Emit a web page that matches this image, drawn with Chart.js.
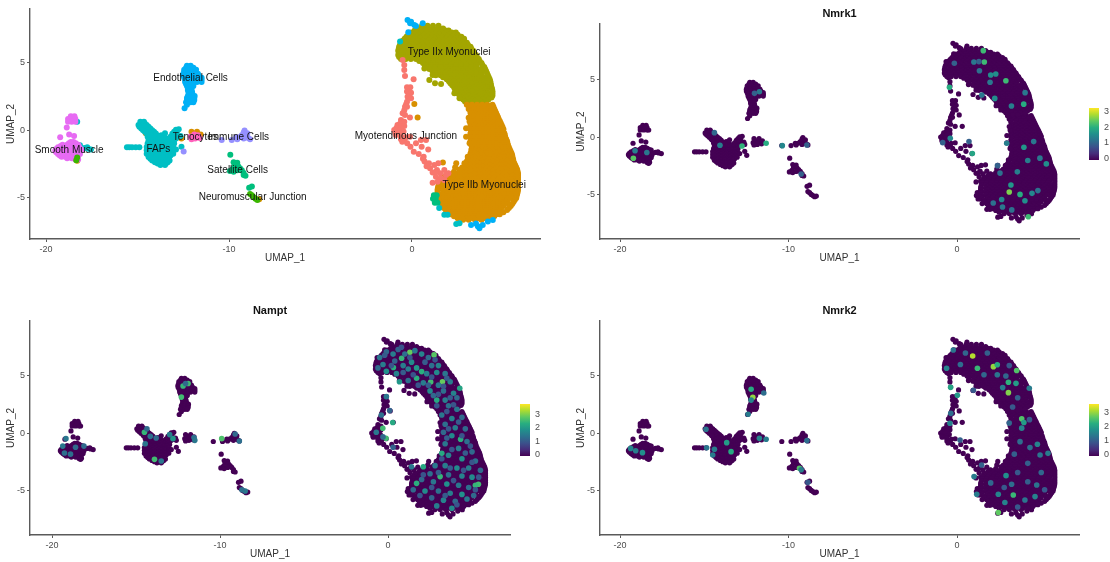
<!DOCTYPE html>
<html>
<head>
<meta charset="utf-8">
<script src="https://cdn.jsdelivr.net/npm/chart.js@4/dist/chart.umd.min.js"></script>
<style>
  html, body { margin: 0; padding: 0; background: #fff; width: 1110px; height: 562px; overflow: hidden; }
  canvas { position: absolute; filter: blur(0.4px); }
</style>
</head>
<body>
<canvas id="clusters" style="left:0;top:0" width="560" height="266"></canvas>
<canvas id="nmrk1" style="left:570px;top:0" width="540" height="266"></canvas>
<canvas id="nampt" style="left:0;top:300px" width="550" height="262"></canvas>
<canvas id="nmrk2" style="left:570px;top:300px" width="540" height="262"></canvas>
<script>
// cells per cluster: each row is [y, x, x, x ...]
const typeIIx = [
  [7.75,.55,.85,1.15,1.45],
  [7.55,.3,.58,.86,1.14,1.42,1.7],
  [7.4,.15,.43,.71,.99,1.27,1.55,1.83,2.0],
  [7.25,-.05,.22,.5,.78,1.06,1.34,1.62,1.9,2.18,2.4],
  [7.1,-.2,.08,.36,.64,.92,1.2,1.48,1.76,2.04,2.32,2.5],
  [6.95,-.3,-.02,.26,.54,.82,1.1,1.38,1.66,1.94,2.22,2.5,2.7],
  [6.8,-.4,-.12,.16,.44,.72,1,1.28,1.56,1.84,2.12,2.4,2.68,2.85],
  [6.65,-.5,-.22,.06,.34,.62,.9,1.18,1.46,1.74,2.02,2.3,2.58,2.86],
  [6.5,-.6,-.32,-.04,.24,.52,.8,1.08,1.36,1.64,1.92,2.2,2.48,2.76,3.0],
  [6.35,-.65,-.3,-.02,.26,.54,.82,1.1,1.38,1.66,1.94,2.22,2.5,2.78,3.06],
  [6.2,-.7,-.44,-.16,.12,.4,.68,.96,1.24,1.52,1.8,2.08,2.36,2.64,2.92,3.2],
  [6.05,-.72,-.3,-.02,.26,.54,.82,1.1,1.38,1.66,1.94,2.22,2.5,2.78,3.06,3.25],
  [5.9,-.75,-.5,-.24,.04,.32,.6,.88,1.16,1.44,1.72,2,2.28,2.56,2.84,3.12,3.35],
  [5.75,-.72,-.36,-.1,.22,.5,.78,1.06,1.34,1.62,1.9,2.18,2.46,2.74,3.02,3.3,3.4],
  [5.6,-.75,-.48,-.2,.08,.36,.64,.92,1.2,1.48,1.76,2.04,2.32,2.6,2.88,3.16,3.5],
  [5.45,-.7,-.36,-.08,.2,.48,.76,1.04,1.32,1.6,1.88,2.16,2.44,2.72,3,3.28,3.55],
  [5.3,-.6,-.34,-.06,.22,.5,.78,1.06,1.34,1.62,1.9,2.18,2.46,2.74,3.02,3.3,3.65],
  [5.15,.4,.74,1.02,1.3,1.58,1.86,2.14,2.42,2.7,2.98,3.26,3.54,3.7],
  [5.0,.6,.88,1.16,1.44,1.72,2,2.28,2.56,2.84,3.12,3.4,3.8],
  [4.85,.7,1.02,1.3,1.58,1.86,2.14,2.42,2.7,2.98,3.26,3.54,3.85],
  [4.7,.72,1,1.28,1.56,1.84,2.12,2.4,2.68,2.96,3.24,3.52,3.95],
  [4.55,.95,1.26,1.54,1.82,2.1,2.38,2.66,2.94,3.22,3.5,3.78,4.0],
  [4.4,1.12,1.4,1.68,1.96,2.24,2.52,2.8,3.08,3.36,3.64,3.86,4.05],
  [4.25,1.25,1.54,1.82,2.1,2.38,2.66,2.94,3.22,3.5,3.78,4.1],
  [4.1,1.3,1.56,1.84,2.12,2.4,2.68,2.96,3.24,3.52,3.8,4.15],
  [3.95,1.7,2,2.28,2.56,2.84,3.12,3.4,3.68,3.96,4.2],
  [3.8,1.9,2.16,2.44,2.72,3,3.28,3.56,3.84,4.08,4.25],
  [3.65,2.02,2.3,2.58,2.86,3.14,3.42,3.7,3.98,4.28],
  [3.5,2.1,2.38,2.66,2.94,3.22,3.5,3.78,4.06,4.3],
  [3.35,2.2,2.46,2.74,3.02,3.3,3.58,3.86,4.14,4.32],
  [3.2,2.3,2.56,2.84,3.12,3.4,3.68,3.96,4.16,4.35],
  [3.05,2.35,2.62,2.9,3.18,3.46,3.74,4.02,4.38],
  [2.9,2.4,2.7,2.98,3.26,3.54,3.82,4.1,4.4],
  [2.75,2.5,2.76,3.04,3.32,3.6,3.88,4.16,4.4],
  [2.6,2.6,2.84,3.12,3.4,3.68,3.96,4.24,4.4],
  [2.45,2.7,2.96,3.24,3.52,3.8,4.08,4.35],
  [2.3,2.8,3.06,3.34,3.62,3.9,4.18],
  [2.15,2.9,3.2,3.48,3.76,4.04],
  [2.0,3.0,3.3,3.6],
  [4.6,.68],[4.11,1.13],[3.94,1.87],[3.74,.95],[3.49,1.26],[3.44,1.59],[2.76,2.32],[2.39,2.6]
];
const typeIIb = [
  [1.9,3.0,3.28,3.56,3.84,4.12,4.4],
  [1.75,3.12,3.42,3.7,3.98,4.26,4.45],
  [1.6,3.1,3.38,3.66,3.94,4.22,4.5],
  [1.45,3.2,3.52,3.8,4.08,4.36,4.55],
  [1.3,3.2,3.48,3.76,4.04,4.32,4.6],
  [1.15,3.3,3.62,3.9,4.18,4.46,4.65],
  [1.0,3.25,3.52,3.8,4.08,4.36,4.7],
  [.85,3.25,3.6,3.88,4.16,4.44,4.74],
  [.7,3.2,3.46,3.74,4.02,4.3,4.58,4.8],
  [.55,3.25,3.6,3.88,4.16,4.44,4.72,4.85],
  [.4,3.2,3.48,3.76,4.04,4.32,4.6,4.9],
  [.25,3.25,3.62,3.9,4.18,4.46,4.74,4.95],
  [.1,3.2,3.44,3.72,4,4.28,4.56,4.84,5.0],
  [-.05,3.25,3.58,3.86,4.14,4.42,4.7,4.98],
  [-.2,3.2,3.5,3.78,4.06,4.34,4.62,4.9,5.05],
  [-.35,3.25,3.58,3.86,4.14,4.42,4.7,4.98,5.08],
  [-.5,3.2,3.44,3.72,4,4.28,4.56,4.84,5.1],
  [-.65,3.25,3.58,3.86,4.14,4.42,4.7,4.98,5.15],
  [-.8,3.2,3.5,3.78,4.06,4.34,4.62,4.9,5.2],
  [-.95,3.25,3.64,3.92,4.2,4.48,4.76,5.04,5.22],
  [-1.1,3.25,3.52,3.8,4.08,4.36,4.64,4.92,5.25],
  [-1.25,3.3,3.66,3.94,4.22,4.5,4.78,5.06,5.3],
  [-1.4,3.25,3.5,3.78,4.06,4.34,4.62,4.9,5.18,5.35],
  [-1.55,3.25,3.64,3.92,4.2,4.48,4.76,5.04,5.32,5.4],
  [-1.7,3.2,3.46,3.74,4.02,4.3,4.58,4.86,5.14,5.45],
  [-1.85,3.2,3.52,3.8,4.08,4.36,4.64,4.92,5.2,5.48],
  [-2.0,3.1,3.38,3.66,3.94,4.22,4.5,4.78,5.06,5.34,5.5],
  [-2.15,3.05,3.4,3.68,3.96,4.24,4.52,4.8,5.08,5.36,5.53],
  [-2.3,3.0,3.26,3.54,3.82,4.1,4.38,4.66,4.94,5.22,5.55],
  [-2.45,2.95,3.3,3.58,3.86,4.14,4.42,4.7,4.98,5.26,5.6],
  [-2.6,2.9,3.16,3.44,3.72,4,4.28,4.56,4.84,5.12,5.4,5.65],
  [-2.75,2.75,3.02,3.3,3.58,3.86,4.14,4.42,4.7,4.98,5.26,5.54,5.7],
  [-2.9,2.6,2.88,3.16,3.44,3.72,4,4.28,4.56,4.84,5.12,5.4,5.75],
  [-3.05,2.3,2.74,3.02,3.3,3.58,3.86,4.14,4.42,4.7,4.98,5.26,5.54,5.78],
  [-3.2,2.0,2.26,2.54,2.82,3.1,3.38,3.66,3.94,4.22,4.5,4.78,5.06,5.34,5.62,5.8],
  [-3.35,1.85,2.12,2.4,2.68,2.96,3.24,3.52,3.8,4.08,4.36,4.64,4.92,5.2,5.48,5.8],
  [-3.5,1.7,1.98,2.26,2.54,2.82,3.1,3.38,3.66,3.94,4.22,4.5,4.78,5.06,5.34,5.62,5.8],
  [-3.65,1.62,1.9,2.18,2.46,2.74,3.02,3.3,3.58,3.86,4.14,4.42,4.7,4.98,5.26,5.54,5.8],
  [-3.8,1.55,1.84,2.12,2.4,2.68,2.96,3.24,3.52,3.8,4.08,4.36,4.64,4.92,5.2,5.48,5.8],
  [-3.95,1.5,1.76,2.04,2.32,2.6,2.88,3.16,3.44,3.72,4,4.28,4.56,4.84,5.12,5.4,5.8],
  [-4.1,1.45,1.7,1.98,2.26,2.54,2.82,3.1,3.38,3.66,3.94,4.22,4.5,4.78,5.06,5.34,5.62,5.8],
  [-4.25,1.42,1.8,2.08,2.36,2.64,2.92,3.2,3.48,3.76,4.04,4.32,4.6,4.88,5.16,5.44,5.8],
  [-4.4,1.4,1.68,1.96,2.24,2.52,2.8,3.08,3.36,3.64,3.92,4.2,4.48,4.76,5.04,5.32,5.6,5.8],
  [-4.55,1.4,1.8,2.08,2.36,2.64,2.92,3.2,3.48,3.76,4.04,4.32,4.6,4.88,5.16,5.44,5.78],
  [-4.7,1.4,1.66,1.94,2.22,2.5,2.78,3.06,3.34,3.62,3.9,4.18,4.46,4.74,5.02,5.3,5.58,5.75],
  [-4.85,1.42,1.8,2.08,2.36,2.64,2.92,3.2,3.48,3.76,4.04,4.32,4.6,4.88,5.16,5.44,5.72],
  [-5.0,1.45,1.72,2,2.28,2.56,2.84,3.12,3.4,3.68,3.96,4.24,4.52,4.8,5.08,5.36,5.7],
  [-5.15,1.48,1.86,2.14,2.42,2.7,2.98,3.26,3.54,3.82,4.1,4.38,4.66,4.94,5.22,5.62],
  [-5.3,1.5,1.78,2.06,2.34,2.62,2.9,3.18,3.46,3.74,4.02,4.3,4.58,4.86,5.14,5.55],
  [-5.45,1.58,1.92,2.2,2.48,2.76,3.04,3.32,3.6,3.88,4.16,4.44,4.72,5,5.28,5.48],
  [-5.6,1.65,1.92,2.2,2.48,2.76,3.04,3.32,3.6,3.88,4.16,4.44,4.72,5,5.4],
  [-5.75,1.75,2.06,2.34,2.62,2.9,3.18,3.46,3.74,4.02,4.3,4.58,4.86,5.3],
  [-5.9,1.85,2.06,2.34,2.62,2.9,3.18,3.46,3.74,4.02,4.3,4.58,4.86,5.2],
  [-6.05,1.98,2.24,2.52,2.8,3.08,3.36,3.64,3.92,4.2,4.48,4.76,5.0],
  [-6.2,2.1,2.38,2.66,2.94,3.22,3.5,3.78,4.06,4.34,4.62,4.8],
  [-6.35,2.3,2.58,2.86,3.14,3.42,3.7,3.98,4.26,4.5],
  [-6.5,2.5,2.78,3.06,3.34,3.62,3.9,4.2],
  [-6.62,2.8,3.1,3.45,3.8],
  [1.96,.13],[.97,.31],[-2.38,1.69],[-2.43,2.42,2.87],[-2.75,2.36],[-1.94,3.05],
  [-.46,2.96],[.17,2.96],[.66,3.15],[-.95,3.15],[.95,3.1]
];
const myotendinous = [
  [5.22,-.51],[4.85,-.42],[4.48,-.42],[4.04,-.38],[3.79,.09],[3.2,-.27,-.09],[3.05,-.2],[2.88,-.27],[2.8,-.05],[2.65,-.15],[2.5,-.24],
  [2.39,-.05],[2.13,-.27],[1.95,-.32],[1.75,-.38,-.27],[1.5,-.42],[1.27,-.51],[1.15,-.38],[.97,-.11],[.78,-.6],[.65,-.42],
  [.5,-.65],[.41,-.79],[.33,-.58,-.42],[.18,-.85,-.6],[.04,-.97],[0,-.7],[-.08,-.46],[-.2,-.9,-.65],[-.33,-.88],[-.4,-.62],[-.5,-.35],[-.46,-.11],
  [-.65,-.6,-.4],[-.83,-.53],[-.95,-.26,.22],[-1.2,-.08,.53],[-.7,.49,.77],[-1.4,.89],[-1.57,.1],[-1.74,.37],[-1.94,.64],[-2.1,.6],
  [-2.3,.69],[-2.43,.93,1.44],[-2.8,.99],[-2.55,1.22],[-2.65,.8],[-3.12,1.13],[-2.93,1.37,1.77],[-3.17,1.55,1.99],
  [-3.42,1.31],[-3.54,1.58],[-3.3,1.86],[-3.87,1.13],[-3.8,1.4],[-3.67,1.77],[-3.05,1.3]
];
const satellite = [
  [-1.8,-9.93],[-2.35,-9.75],[-2.4,-9.55],[-2.6,-9.7],[-2.65,-9.5],[-2.8,-9.4],[-2.85,-9.8],[-3.0,-9.95],
  [-3.05,-9.75],[-2.95,-9.55,-9.3],[-3.15,-9.2],[-3.3,-9.2],[-3.35,-9.1],[-4.25,-8.9],[-4.15,-8.75],
  [-4.8,1.2,1.35],[-5.05,1.15,1.3],[-5.35,1.25,1.4]
];
const faps = [
  [.65,-14.85,-14.65],[.52,-14.8,-14.6],[.4,-14.95,-14.7,-14.5],[.27,-14.9,-14.6,-14.4],[.15,-14.8,-14.55,-14.3],[.02,-14.7,-14.45,-14.2],
  [-.1,-14.6,-14.35,-14.1],[-.22,-14.5,-14.25,-14.0],[-.35,-14.35,-14.15,-13.95,-13.7,-12.9],
  [-.47,-14.45,-14.25,-14.05,-13.8,-13.55,-13.2,-13,-12.85],[-.6,-14.3,-14.05,-13.8,-13.55,-13.3,-13.1,-12.9],
  [-.72,-14.4,-14.15,-13.9,-13.65,-13.4,-13.2,-13],[-.85,-14.3,-14.05,-13.8,-13.55,-13.3,-13.1],
  [-.97,-14.45,-14.2,-13.95,-13.7,-13.45,-13.2,-13],[-1.1,-14.35,-14.1,-13.85,-13.6,-13.35,-13.15],
  [-1.22,-14.5,-14.25,-14,-13.75,-13.5,-13.25,-13.05],[-1.35,-14.4,-14.15,-13.9,-13.65,-13.4,-13.2],
  [-1.47,-14.5,-14.25,-14,-13.75,-13.5,-13.25,-13.05],[-1.6,-14.4,-14.15,-13.9,-13.65,-13.4,-13.15],
  [-1.72,-14.5,-14.25,-14,-13.75,-13.5,-13.25,-13.05],[-1.85,-14.4,-14.15,-13.9,-13.65,-13.4,-13.2],
  [-1.97,-14.4,-14.25,-14,-13.75,-13.5,-13.3],[-2.1,-14.3,-14.05,-13.8,-13.55,-13.3],[-2.22,-14.2,-13.95,-13.7,-13.45,-13.25],
  [-2.35,-14.05,-13.8,-13.55,-13.35],[-2.45,-13.9,-13.65,-13.45],[-2.55,-13.75,-13.5],
  [-1.25,-15.58,-15.45,-15.3,-15.1,-14.9],[-.2,-13.5],[.1,-12.75],[-.1,-12.85,-13],[-.25,-13.1,-12.95],[.05,-12.9],[-1.4,-12.9],[-1.2,-12.6],[-.4,-12.65],
  [-1.1,-18.15],[-1.3,-17.9],[-1.35,-17.7],[-1.4,-17.55],[-1.25,-17.75],[.65,-18.3],
  [-6.93,2.42],[-6.87,2.6],[-6.25,1.95,1.77],[-5.75,1.49],[6.6,-.65]
];
const endothelial = [
  [4.8,-12.3,-12.1],[4.65,-12.35,-12.15,-11.95],[4.5,-12.45,-12.2,-11.95,-11.8],[4.35,-12.45,-12.25,-12.05,-11.85],[4.2,-12.5,-12.3,-12.05,-11.85,-11.7],
  [4.05,-12.5,-12.25,-12,-11.8,-11.65],[3.9,-12.45,-12.2,-12,-11.8,-11.65,-11.5],[3.75,-12.4,-12.15,-11.9,-11.7,-11.5],[3.6,-12.4,-12.15,-11.95,-11.75,-11.5],
  [3.45,-12.35,-12.1,-11.95],[3.3,-12.3,-12.05,-11.95],[3.15,-12.25,-12.05],
  [3.0,-12.25,-12.05],[2.85,-12.22,-12.02],[2.7,-12.2,-12],[2.55,-12.25,-12.05,-11.88],[2.4,-12.3,-12.1,-11.9],[2.25,-12.3,-12.1,-11.9],[2.1,-12.35,-12.1,-11.95],[1.9,-12.3],[1.65,-12.43],
  [8.19,-.24],[8.06,-.05],[7.81,.13],[7.95,-.1],[7.74,.22],[7.94,.59],[7.27,-.2],
  [-7.0,3.23,3.87],[-6.9,3.5],[-7.25,3.69],[-6.75,4.15],[-6.63,4.42],[-7.1,3.6]
];
const immune = [
  [-.7,-10.4,-9.85],[-.5,-9.6,-9.45],[-.35,-9.3,-9.05],[-.15,-9.2],[0,-9.15],[-.55,-8.95],[-.65,-8.85,-9.55],
  [-.6,-9.2],[-.2,-9],[-1.55,-12.48]
];
const smoothMuscle = [
  [1.05,-18.65,-18.45],[.85,-18.8,-18.6,-18.4],[.65,-18.8,-18.6,-18.4],[.22,-18.87],[-.3,-18.74],[-.4,-18.47],[-.5,-19.23],
  [-.85,-18.65,-18.5],[-.95,-18.75,-18.55,-18.38],[-1.05,-19.1,-18.85,-18.65,-18.45,-18.25],[-1.15,-19.2,-19,-18.8,-18.6,-18.4,-18.22],[-1.25,-19.35,-19.15,-18.95,-18.75,-18.55,-18.35,-18.2],
  [-1.38,-19.45,-19.25,-19.05,-18.85,-18.65,-18.45,-18.25,-18.1],[-1.5,-19.5,-19.3,-19.1,-18.9,-18.7,-18.5,-18.3,-18.1],[-1.62,-19.45,-19.25,-19.05,-18.85,-18.65,-18.45,-18.25],
  [-1.75,-19.35,-19.15,-18.95,-18.75,-18.55,-18.35,-18.15],[-1.85,-19.25,-19.05,-18.85,-18.65,-18.45,-18.25],
  [-1.95,-19.15,-18.95,-18.75,-18.5,-18.3],[-2.05,-18.85,-18.6,-18.4],[-2.15,-18.4,-18.25]
];
const tenocytes = [[-.45,-12.1],[-.3,-11.9],[-.35,-11.7],[-.6,-11.85],[-.65,-12.05],[-.55,-11.6]];
const neuromuscular = [[-4.7,-8.85],[-4.8,-8.75],[-4.95,-8.65],[-5.05,-8.55],[-5.15,-8.45],[-2.0,-18.3],[-2.2,-18.35]];
const strayIIb = [[-.1,-12.05,-11.75],[-.3,-11.55],[-.5,-12.75],[-.6,-12.6],[-.2,-14.55],[.95,-18.5],[-5.1,-8.35],[-2.25,-18.3]];

// ggplot hues of the clusters, first listed ends up on top
const clusterNames = ["Neuromuscular Junction","Tenocytes","Smooth Muscle","Immune Cells","Endothelial Cells","FAPs","Satellite Cells","Type IIb strays","Myotendinous Junction","Type IIb Myonuclei","Type IIx Myonuclei"];
const clusterCells = [neuromuscular,tenocytes,smoothMuscle,immune,endothelial,faps,satellite,strayIIb,myotendinous,typeIIb,typeIIx];
const clusterColors = ["#39B600","#FF62BC","#E76BF3","#9590FF","#00B0F6","#00BFC4","#00BF7D","#D89000","#F8766D","#D89000","#A3A500"];

// text over the clusters: [name, x, y]
const clusterLabels = [
  ["Endothelial Cells",-12.1,3.89],["Type IIx Myonuclei",2.03,5.81],["Tenocytes",-11.84,-.48],["Immune Cells",-9.48,-.48],
  ["Smooth Muscle",-18.74,-1.44],["FAPs",-13.86,-1.37],["Satellite Cells",-9.53,-2.93],["Neuromuscular Junction",-8.71,-4.93],
  ["Myotendinous Junction",-.33,-.41],["Type IIb Myonuclei",3.95,-4.04]
];

// cells with expression above zero: [x, y, value]
const nmrk1Values = [
  [1.56,7.55,2.2],[1.62,6.56,2.2],[1,6.56,1.3],[1.3,6.6,1],[-.16,6.45,1],[1.33,5.8,1.2],[2,5.44,1.6],[2.3,5.52,1.6],[2.9,4.94,2.2],
  [1.96,4.8,1.3],[-.45,4.36,2],[2.24,3.4,1.6],[1.47,3.69,1.3],[3.23,2.74,1.4],[3.96,2.9,2],[4.04,3.9,1.3],[-.4,-.07,1.5],[-.85,-.45,1],
  [.71,-.36,1],[.91,-1.4,1.9],[2.95,-.5,1.4],[3.97,-.85,1.7],[4.55,-.36,1.3],[2.4,-2.45,1],[2.55,-3.1,1.2],[3.58,-2.99,1.4],[4.2,-2,1.4],
  [4.92,-1.8,1.3],[5.3,-2.3,1.6],[3.1,-4.74,2.6],[3.74,-4.95,2],[4.45,-4.86,1.5],[3.2,-4.13,1.7],[4.03,-5.5,1.6],[4.23,-6.9,2.2],
  [2.15,-5.7,1.2],[2.7,-6.05,1.3],[3.25,-6.3,1.2],[4.8,-4.62,1.2],[2.65,-5.4,1.5],
  [-11.73,3.98,1.3],[-12.02,3.84,1],[-11.33,-.5,2],[-10.37,-.71,1.5],[-12.76,-.74,2.1],[-14.07,-.68,1.4],[-14.4,.42,1.1],
  [-18.41,-1.3,1.3],[-19.11,-1.15,1.4],[-19.21,-1.81,2.4],[-8.91,-.65,1],[-9.25,-3.17,1]
];
const namptValues = [
  [2.74,6.83,2.8],[1.3,7.06,2.9],[.81,6.54,2.5],[.32,5.73,2.4],[2,5.38,2.4],[2.54,4.48,2.6],[3.24,4.5,2.9],[1.7,4.8,2.4],[4.27,3.93,2.2],
  [2.9,2.9,2.3],[4.32,-.5,2.4],[-.12,-.42,2.6],[.28,.95,2.3],[-.31,.45,2.6],[.68,4.5,2],[1.7,-4.34,2.4],[5.38,-4.42,2.6],[5.2,-4.5,2.5],
  [3.1,-3.75,2.5],[2.1,-2.9,2.3],[3.2,-1.73,2.3],
  [-.5,6.6,1.5],[-.1,7.1,1.3],[.3,6.9,1.6],[.6,7.3,1.2],[1,6.9,1.4],[1.6,7.2,1.5],[2,6.9,1.7],[2.4,6.6,1.3],[3,5.9,1.7],[2.6,5.9,1.4],
  [1.4,6.2,1.8],[.9,5.9,1.6],[.4,6.3,1.2],[-.3,6,1.6],[-.6,5.7,1.3],[-.1,5.4,1.9],[.5,5.2,1.7],[1.2,5.6,1.6],[1.7,5.7,2],[2.3,5.2,1.6],
  [2.9,5.3,1.8],[3.4,5.2,1.5],[1.2,4.6,1.4],[2.1,4.4,1.6],[3,4.2,1.5],[3.7,4.5,1.6],[2.5,3.7,1.8],[3.3,3.7,1.4],[3.9,3.5,1.7],[4.1,3.1,1.3],
  [2.7,3.3,1.3],[3.4,2.9,1.6],[3.6,2.4,1.4],[4.1,2.1,1.5],[3.2,1.6,1.5],[3.8,1.3,1.7],[4.4,1.4,1.3],[3.4,.8,1.4],[4,.5,1.6],[4.6,.4,1.3],
  [3.3,.1,1.3],[3.8,-.2,1.8],[4.7,-.7,1.4],[3.4,-.9,1.5],[4.2,-1.3,1.6],[5,-1.6,1.3],[3.6,-1.9,1.7],[4.4,-2.2,1.9],[5.2,-2.4,1.4],[2.8,-2.8,1.5],
  [3.4,-2.8,1.6],[4.1,-3,1.8],[4.8,-3,1.6],[5.5,-3.2,1.3],[2.5,-3.5,1.4],[3.6,-3.6,1.4],[4.4,-3.7,1.7],[5,-3.8,1.8],[2,-4,1.3],[2.7,-4.2,1.5],
  [3.5,-4.4,1.9],[4.2,-4.5,1.5],[4.8,-4.7,1.4],[1.5,-4.9,1.3],[2.2,-5,1.8],[3,-5,1.4],[3.7,-5.2,1.6],[4.4,-5.3,1.9],[5.1,-5.4,1.3],[2.6,-5.6,1.2],
  [3.3,-5.8,1.7],[4,-5.9,1.3],[4.7,-5.7,1.5],[2.9,-6.3,1.6],[3.8,-6.5,1.8],[-.4,1.6,1.4],[-.1,3.2,1.5],[.1,2,1.2],[-.7,.1,1.5],[-.3,-.3,1.3],[.3,-1.2,1.2],
  [1.4,-2.9,1.5],[-.2,6.8,1.1],[.8,7.5,1],[1.3,6.6,1],[2.2,6.2,1.1],[2.8,6.4,1],[.2,5.9,1],[.9,5.3,1.1],[1.5,5.1,1],[2.6,4.9,1],[3.5,4.8,1.1],[1.8,4.2,1],
  [2.4,4.2,1.1],[3.3,4.1,1],[3,3.4,1],[3.7,3.1,1.1],[2.9,2.4,1],[3.9,2.5,1],[3.5,1.9,1],[4.2,1,1.1],[3.6,.4,1],[4.4,-.2,1],[3.5,-.4,1.1],[4.9,-1.1,1],[3.8,-1.4,1],
  [4.6,-1.7,1.1],[3.2,-2.2,1],[5,-2.5,1],[3.7,-3,1.1],[4.5,-3.2,1],[2.1,-3.6,1],[3,-3.4,1.1],[5.4,-3.8,1],[3.9,-4.1,1],[5.2,-4.9,1],[2.6,-4.7,1],[1.9,-5.4,1],[3.4,-5.4,1.1],[4.1,-6.2,1],
  [-12.3,3.16,2.6],[-11.9,4.35,2.6],[-12.2,4.13,2.5],[-14.5,.1,2.5],[-13.9,-2.25,2.6],[-9.9,-.45,2.7],[-12.8,-.45,2],[-19.17,-.45,1.5],
  [-19.36,-1.1,1.5],[-19.26,-1.7,1.4],[-18.6,-1.2,1.3],[-18.1,-1.1,1.3],[-18.9,-1.8,1.4],[-14.45,-.9,1.5],[-14.15,-.25,1.4],[-13.8,-.4,1.3],[-13,-.1,1.6],
  [-13.5,-2.4,1.5],[-11.55,-.35,1.4],[-11.5,-.6,1.5],[-9.1,-.05,1.3],[-8.85,-.65,1.4],[-8.5,-5,1.5],[-8.7,-4.9,1.4],[-12.05,4.35,1.3],[-14.35,.4,1.3]
];
const nmrk2Values = [
  [.93,6.74,3.2],[2.16,5.81,3],[1.21,5.67,2.4],[2.39,5.97,2.2],[-.38,4.01,2.1],[.02,3.32,1.9],[-.62,5.67,1.6],[-.22,7.26,1.4],[3.54,5.47,2.6],
  [3.05,4.45,2.3],[3.5,4.36,2],[3.05,3.55,2.9],[2.71,3.99,1.5],[2.39,5.1,1.4],[.97,3.75,1],[4.29,3.93,1.5],[3.84,1.27,2.6],[3.97,.95,2],
  [3.84,.46,1.6],[3.1,.9,1.2],[4.77,-.94,1.6],[3.74,-.71,1.3],[4.33,-1.23,1.3],[4.93,-1.87,1.4],[2.91,-3.67,1.8],[1.01,-3.75,1.5],[1.17,-5.29,1.5],
  [2.45,-6.88,2.7],[3.34,-5.35,2.4],[2.84,-6,1.6],[2.45,-5.29,1.6],[4.63,-5.49,1.6],[4.73,-4.48,1.4],[4.03,-5.78,1.4],[3.24,-4.42,1.3],[-.42,.89,1.6],
  [-.37,1.75,1.3],[1.46,-2.74,1.1],[.18,-.57,1.1],[5.4,-1.73,1.5],
  [.5,7,1.2],[1.8,7,1.1],[.2,6,1.3],[1.6,5.1,1.2],[3.1,5.9,1],[2.9,5,1.2],[3.6,3.1,1.1],[3.3,2.3,1],[4.3,1.2,1],[3.4,-1.8,1.1],[4.2,-2.6,1.1],[5,-3.4,1.2],[3.6,-3.4,1],[2,-4.3,1.2],[2.8,-4.7,1],[4.2,-4.2,1.1],[5.2,-4.9,1],[3.6,-6.4,1],
  [-12.22,3.84,2.2],[-12.12,3.15,3],[-12.22,2.9,1.6],[-12.4,1.67,1.5],[-11.47,3.52,1.3],[-13.67,-.8,2],[-13.41,-1.58,2.2],[-14.4,-1.37,1.5],
  [-14.5,-1.87,1.5],[-14.9,.36,1.4],[-14.86,-1.25,1.4],[-11.73,-.42,1.6],[-11.33,-.5,1.5],[-8.91,-.62,1.3],[-9.35,-3.03,2.6],[-9.25,-3.15,1.5],
  [-8.85,-4.25,1],[-19.07,-1.5,1.5],[-19.37,-1.3,1.6],[-18.67,-1.67,1.8]
];

const xTicks = [-20,-10,0];
const yTicks = [-5,0,5];
const viridis = ["#440154","#472d7b","#3b528b","#2c728e","#21908c","#28ae80","#5ec962","#addc30","#fde725"];

const inkColor = "#4d4d4d";
const axisColor = "#5a5a5a";
const fontName = "'Liberation Sans', Arial, sans-serif";

function rowsToPoints(rows) {
  const pts = [];
  rows.forEach(r => r.slice(1).forEach(x => pts.push({x: x, y: r[0]})));
  return pts;
}
const allCells = clusterCells.flatMap(rowsToPoints);

function viridisAt(t) {
  const p = Math.min(Math.max(t, 0), 1) * (viridis.length - 1);
  const i = Math.min(Math.floor(p), viridis.length - 2);
  const c = [viridis[i], viridis[i + 1]].map(h => [1, 3, 5].map(k => parseInt(h.substr(k, 2), 16)));
  const mix = c[0].map((v, n) => Math.round(v + (c[1][n] - v) * (p - i)));
  return `rgb(${mix.join(",")})`;
}

// cluster names over the points of the first panel
const labelPlugin = {
  id: "clusterText",
  afterDatasetsDraw(chart, args, opts) {
    if (!opts.items) return;
    const ctx = chart.ctx;
    ctx.save();
    ctx.font = `10px ${fontName}`;
    ctx.fillStyle = "#111";
    ctx.textAlign = "center";
    ctx.textBaseline = "middle";
    opts.items.forEach(l => ctx.fillText(l[0], chart.scales.x.getPixelForValue(l[1]), chart.scales.y.getPixelForValue(l[2])));
    ctx.restore();
  }
};

// colour bar next to the feature plots
const barPlugin = {
  id: "colorBar",
  afterDraw(chart, args, opts) {
    if (!opts.max) return;
    const ctx = chart.ctx;
    const grad = ctx.createLinearGradient(0, opts.top + opts.height, 0, opts.top);
    viridis.forEach((c, i) => grad.addColorStop(i / (viridis.length - 1), c));
    ctx.save();
    ctx.fillStyle = grad;
    ctx.fillRect(opts.left, opts.top, 10, opts.height);
    ctx.font = `9px ${fontName}`;
    ctx.fillStyle = inkColor;
    ctx.textBaseline = "middle";
    opts.ticks.forEach(v => {
      const y = opts.top + opts.height - 1.5 - v / opts.max * (opts.height - 1.5);
      ctx.fillText(String(v), opts.left + 15, y);
    });
    ctx.restore();
  }
};

function axisOptions(min, max, ticks, text, titlePad, size) {
  return {
    type: "linear",
    min: min,
    max: max,
    afterBuildTicks: a => { a.ticks = ticks.map(v => ({value: v})); },
    afterFit: a => {
      if (a.isHorizontal()) a.height = size; else a.width = size;
    },
    border: {color: axisColor, width: 1.4},
    grid: {drawOnChartArea: false, color: axisColor, tickLength: 3, lineWidth: 1},
    ticks: {color: inkColor, font: {size: 9, family: fontName}, padding: 2, maxRotation: 0},
    title: {display: true, text: text, color: "#333", font: {size: 10, family: fontName}, padding: titlePad}
  };
}

function makePanel(id, datasets, o) {
  new Chart(document.getElementById(id), {
    type: "scatter",
    data: {datasets: datasets},
    options: {
      responsive: false,
      animation: false,
      events: [],
      layout: {padding: {top: o.padTop, right: o.padRight, left: 0, bottom: 0}},
      scales: {
        x: axisOptions(o.x[0], o.x[1], xTicks, "UMAP_1", {top: 0, bottom: 2}, 27),
        y: axisOptions(o.y[0], o.y[1], yTicks, "UMAP_2", {top: 5, bottom: 0}, 30)
      },
      plugins: {
        legend: {display: false},
        tooltip: {enabled: false},
        title: o.title ? {
          display: true, text: o.title, color: "#111", fullSize: false,
          font: {size: 11, weight: "bold", family: fontName},
          padding: {top: o.titleTop, bottom: o.titleBottom}
        } : {display: false},
        clusterText: {items: o.labels},
        colorBar: o.bar || {}
      }
    },
    plugins: [labelPlugin, barPlugin]
  });
}

function featureSets(values, max) {
  const pts = values.map(v => ({x: v[0], y: v[1]}));
  const cols = values.map(v => viridisAt(v[2] / max));
  return [
    {data: pts, pointRadius: 2.8, borderWidth: 0, backgroundColor: cols, pointBackgroundColor: cols},
    {data: allCells, pointRadius: 2.6, borderWidth: 0, backgroundColor: viridis[0]}
  ];
}

makePanel("clusters", clusterCells.map((rows, i) => ({
  label: clusterNames[i], data: rowsToPoints(rows), pointRadius: 3, borderWidth: 0, backgroundColor: clusterColors[i]
})), {x: [-20.88, 7], y: [-8.04, 9], padTop: 9, padRight: 20, labels: clusterLabels});

makePanel("nmrk1", featureSets(nmrk1Values, 3.25), {
  x: [-21.19, 7.24], y: [-8.83, 9.87], padTop: 0, padRight: 31, title: "Nmrk1", titleTop: 7, titleBottom: 3.8,
  bar: {left: 519, top: 108, height: 52, max: 3.25, ticks: [0, 1, 2, 3]}
});
makePanel("nampt", featureSets(namptValues, 3.8), {
  x: [-21.31, 7.26], y: [-8.83, 9.78], padTop: 0, padRight: 40, title: "Nampt", titleTop: 4, titleBottom: 3.8,
  bar: {left: 520, top: 104, height: 52, max: 3.8, ticks: [0, 1, 2, 3]}
});
makePanel("nmrk2", featureSets(nmrk2Values, 3.6), {
  x: [-21.19, 7.24], y: [-8.83, 9.78], padTop: 0, padRight: 31, title: "Nmrk2", titleTop: 4, titleBottom: 3.8,
  bar: {left: 519, top: 104, height: 52, max: 3.6, ticks: [0, 1, 2, 3]}
});
</script>
</body>
</html>
